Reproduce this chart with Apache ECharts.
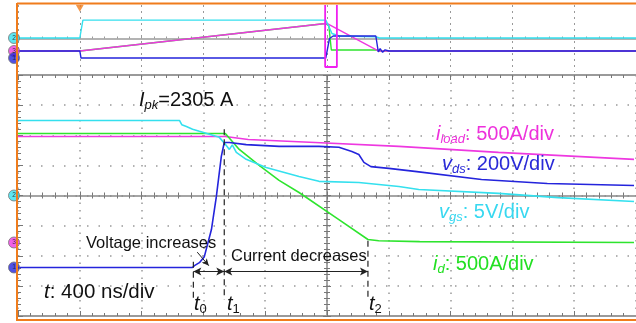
<!DOCTYPE html>
<html><head><meta charset="utf-8">
<script src="https://cdn.jsdelivr.net/npm/echarts@6/dist/echarts.min.js"></script>
<style>html,body{margin:0;padding:0;background:#fff}#c{width:636px;height:323px}</style>
</head><body><div id="c"></div>
<script>
// ---- Overview panel (x in divisions 0..10, y in divisions) ----
const vgsTop = [[0,0.06],[1.0,0.06],[1.05,2.2],[4.98,2.2],[5.02,1.6],[5.08,0.6],[5.2,0.3],[5.8,0.2],[5.85,0.06],[10,0.06]];
const iloadTop = [[0,-1.49],[1.0,-1.49],[1.02,-1.37],[4.98,1.79],[5.02,1.73],[5.83,-1.49],[10,-1.49]];
const idTop = [[0,-1.49],[1.0,-1.49],[1.02,-1.37],[4.98,1.79],[5.03,1.5],[5.07,-1.37],[5.8,-1.37],[5.85,-1.49],[10,-1.49]];
const vdsTop = [[0,-1.49],[1.0,-1.49],[1.02,-2.33],[4.98,-2.33],[5.04,0.0],[5.1,0.3],[5.79,0.3],[5.83,-1.6],[5.86,-1.2],[5.9,-1.65],[5.94,-1.35],[6.0,-1.49],[10,-1.49]];
const zoomWindow = [[4.97,4],[4.97,-3.4],[5.16,-3.4],[5.16,4]];
const topGrounds = [[0,0.06],[0,-1.49],[0,-2.33]];
const triggerPos = [[1.0,3.6]];

// ---- Main panel (x in ns 0..4000, y in divisions) ----
const vgsMain = [[0,2.49],[1045,2.49],[1060,2.35],[1090,2.29],[1130,2.2],[1174,2.13],[1303,1.93],[1342,1.7],[1368,1.53],[1387,1.68],[1413,1.43],[1477,1.2],[1606,0.93],[1819,0.63],[1948,0.47],[2206,0.43],[2465,0.30],[2594,0.2],[3110,0.07],[3497,-0.07],[3987,-0.2]];
const idMain = [[0,2.06],[1342,2.06],[1432,1.53],[1561,1.0],[1690,0.5],[1819,0.1],[2077,-0.8],[2265,-1.46],[2335,-1.5],[2600,-1.53],[3987,-1.56]];
const iloadMain = [[0,1.96],[1342,1.96],[1490,1.86],[1923,1.76],[2465,1.63],[3110,1.43],[3987,1.20]];
const vdsMain = [[0,-2.39],[1129,-2.39],[1142,-2.33],[1174,-2.23],[1206,-2.03],[1252,-1.13],[1284,-0.03],[1316,1.3],[1335,1.76],[1368,1.76],[1477,1.69],[1690,1.63],[1948,1.63],[2077,1.6],[2161,1.46],[2206,1.36],[2239,1.1],[2284,0.96],[2400,0.9],[2568,0.8],[3000,0.53],[3426,0.4],[3987,0.33]];
const mainGrounds = [[0,0],[0,-1.56],[0,-2.39]];
const groundLabels = ['2','3','1'];
const tMarks = [1135, 1335, 2265];       // t0, t1, t2 (ns)
const tDashTop = [-2.2, 2.2, -1.5];      // top of dashed markers (div)
const dashBottom = -3.45;
const arrowY = -2.52;
const leader = [[1160,-1.88],[1235,-2.33]];  // "Voltage increases" pointer

const C = {cyan:'#34e0ee', mag:'#ee38e0', blue:'#2424dc', green:'#2ee42e', orange:'#f07c1c', grid:'#9a9a9a'};
const FF = '"Liberation Sans", Arial, sans-serif';

const chart = echarts.init(document.getElementById('c'), null, {renderer:'canvas'});

function trace(data, color, xi, yi, w) {
  return {type:'line', data, xAxisIndex:xi, yAxisIndex:yi, showSymbol:false, symbol:'none',
    lineStyle:{color, width:w||1.6}, itemStyle:{color}, animation:false, silent:true, z:3};
}
function groundSeries(data, xi, yi, size) {
  const cols = [C.cyan, C.mag, C.blue];
  return {type:'scatter', xAxisIndex:xi, yAxisIndex:yi, clip:false, animation:false, silent:true, z:6,
    data: data.map((d,i)=>({value:d, itemStyle:{color:cols[i], borderColor:'#777', borderWidth:1},
      label:{show:true, formatter:groundLabels[i], position:'inside', fontSize:size*0.6, color:'#222', fontFamily:FF}})),
    symbol:'circle', symbolSize:size, symbolOffset:[-4,0]};
}
const dashedSeries = tMarks.map((t,i)=>({type:'line', xAxisIndex:1, yAxisIndex:1, data:[[t,tDashTop[i]],[t,dashBottom]],
  showSymbol:false, symbol:'none', lineStyle:{color:'#222', width:1.2, type:[6,4]}, animation:false, silent:true, z:4}));

const rich = (col, size) => ({
  i:{fontFamily:FF, fontSize:size, fontStyle:'italic', fill:col, fontWeight:'normal'},
  n:{fontFamily:FF, fontSize:size, fill:col},
  s:{fontFamily:FF, fontSize:Math.round(size*0.66), fontStyle:'italic', fill:col, padding:[Math.round(size*0.5),0,0,0]},
  d:{fontFamily:FF, fontSize:Math.round(size*0.66), fill:col, padding:[Math.round(size*0.5),0,0,0]}
});
function txt(x, y, text, col, size) {
  return {type:'text', x, y, z:10, silent:true,
    style:{text, rich:rich(col,size), fill:col, fontFamily:FF, fontSize:size, verticalAlign:'middle', align:'left'}};
}

const option = {
  backgroundColor:'#fff',
  animation:false,
  grid:[
    {left:18, top:5, width:620, height:67},
    {left:18, top:75, width:620, height:241}
  ],
  xAxis:[
    {gridIndex:0, type:'value', min:0, max:10, interval:1, axisLabel:{show:false},
     axisLine:{show:true, onZero:true, onZeroAxisIndex:0, lineStyle:{color:C.grid, width:1.5}},
     axisTick:{show:true, inside:true, length:3, lineStyle:{color:C.grid}},
     minorTick:{show:true, splitNumber:5, length:2, lineStyle:{color:C.grid}},
     splitLine:{show:true, lineStyle:{color:'#999', type:[2,4], width:1}}},
    {gridIndex:1, type:'value', min:0, max:4000, interval:400, position:'bottom', axisLabel:{show:false},
     axisLine:{show:true, onZero:false, lineStyle:{color:C.grid, width:2}},
     axisTick:{show:true, inside:true, length:5, lineStyle:{color:'#777'}},
     minorTick:{show:true, splitNumber:5, length:3, lineStyle:{color:'#777'}},
     splitLine:{show:true, lineStyle:{color:'#999', type:[1.5,6], width:1.5}}},
    {gridIndex:1, type:'value', min:0, max:4000, interval:400, position:'top', axisLabel:{show:false},
     axisLine:{show:true, onZero:false, lineStyle:{color:C.grid, width:2}},
     axisTick:{show:true, inside:true, length:5, lineStyle:{color:'#777'}},
     minorTick:{show:true, splitNumber:5, length:3, lineStyle:{color:'#777'}},
     splitLine:{show:false}},
    {gridIndex:1, type:'value', min:-2000, max:2000, interval:400, position:'bottom', axisLabel:{show:false},
     axisLine:{show:true, onZero:true, onZeroAxisIndex:1, lineStyle:{color:'#888', width:1.5}},
     axisTick:{show:true, inside:true, length:4, lineStyle:{color:'#777'}},
     minorTick:{show:true, splitNumber:5, length:3, lineStyle:{color:'#777'}},
     splitLine:{show:false}},
    {gridIndex:1, type:'value', min:-2000, max:2000, interval:400, position:'bottom', axisLabel:{show:false},
     axisLine:{show:false, onZero:true, onZeroAxisIndex:1},
     axisTick:{show:true, inside:false, length:4, lineStyle:{color:'#777'}},
     minorTick:{show:true, splitNumber:5, length:3, lineStyle:{color:'#777'}},
     splitLine:{show:false}}
  ],
  yAxis:[
    {gridIndex:0, type:'value', min:-4, max:4, interval:1, axisLabel:{show:false},
     axisLine:{show:false}, axisTick:{show:false}, splitLine:{show:false}},
    {gridIndex:1, type:'value', min:-4, max:4, interval:1, position:'left', axisLabel:{show:false},
     axisLine:{show:false, onZero:false},
     axisTick:{show:true, inside:true, length:5, lineStyle:{color:'#777'}},
     minorTick:{show:true, splitNumber:5, length:3, lineStyle:{color:'#777'}},
     splitLine:{show:true, lineStyle:{color:'#999', type:[1.5,10], width:1.5}}},
    {gridIndex:1, type:'value', min:-4, max:4, interval:1, position:'left', axisLabel:{show:false},
     axisLine:{show:true, onZero:true, onZeroAxisIndex:3, lineStyle:{color:'#888', width:1.5}},
     axisTick:{show:true, inside:true, length:4, lineStyle:{color:'#777'}},
     minorTick:{show:true, splitNumber:5, length:3, lineStyle:{color:'#777'}},
     splitLine:{show:false}},
    {gridIndex:1, type:'value', min:-4, max:4, interval:1, position:'left', axisLabel:{show:false},
     axisLine:{show:false, onZero:true, onZeroAxisIndex:3},
     axisTick:{show:true, inside:false, length:4, lineStyle:{color:'#777'}},
     minorTick:{show:true, splitNumber:5, length:3, lineStyle:{color:'#777'}},
     splitLine:{show:false}}
  ],
  series:[
    trace(idTop, C.green, 0, 0, 1.4),
    trace(iloadTop, C.mag, 0, 0, 1.4),
    trace(vgsTop, C.cyan, 0, 0, 1.4),
    trace(vdsTop, C.blue, 0, 0, 1.4),
    {type:'line', data:zoomWindow, xAxisIndex:0, yAxisIndex:0, showSymbol:false, symbol:'none',
     lineStyle:{color:'#f020f0', width:1.8}, animation:false, silent:true, z:5},
    {type:'scatter', data:triggerPos, xAxisIndex:0, yAxisIndex:0, symbol:'triangle', symbolRotate:180, symbolSize:[8,7],
     itemStyle:{color:C.orange}, clip:false, animation:false, silent:true, z:6},
    groundSeries(topGrounds, 0, 0, 11),
    trace(iloadMain, C.mag, 1, 1),
    trace(idMain, C.green, 1, 1),
    trace(vgsMain, C.cyan, 1, 1),
    trace(vdsMain, C.blue, 1, 1),
    groundSeries(mainGrounds, 1, 1, 11),
    ...dashedSeries,
    {type:'line', xAxisIndex:1, yAxisIndex:1, data:[], animation:false, silent:true,
     markLine:{silent:true, symbol:['arrow','arrow'], symbolSize:[6,8], label:{show:false},
       lineStyle:{color:'#222', width:1, type:'solid'}, animation:false,
       data:[
         [{coord:[tMarks[0], arrowY]},{coord:[tMarks[1], arrowY]}],
         [{coord:[tMarks[1], arrowY]},{coord:[tMarks[2], arrowY]}]
       ]}},
    {type:'line', xAxisIndex:1, yAxisIndex:1, data:[], animation:false, silent:true,
     markLine:{silent:true, symbol:['none','arrow'], symbolSize:[5,7], label:{show:false},
       lineStyle:{color:'#222', width:1, type:'solid'}, animation:false,
       data:[[{coord:leader[0]},{coord:leader[1]}]]}}
  ],
  graphic:[
    {type:'line', shape:{x1:17,y1:3.5,x2:636,y2:3.5}, style:{stroke:C.orange, lineWidth:2}, z:20, silent:true},
    {type:'line', shape:{x1:17,y1:3,x2:17,y2:321}, style:{stroke:C.orange, lineWidth:2}, z:20, silent:true},
    {type:'line', shape:{x1:17,y1:320,x2:636,y2:320}, style:{stroke:C.orange, lineWidth:2}, z:20, silent:true},
    txt(139, 100, '{i|I}{s|pk}{n|=2305 A}', '#111', 20),
    txt(436, 134, '{i|i}{s|load}{n|: 500A/div}', '#ee30dc', 20),
    txt(442, 164, '{i|v}{s|ds}{n|: 200V/div}', '#2a2ad8', 20),
    txt(439, 212, '{i|v}{s|gs}{n|: 5V/div}', '#38d8f0', 20),
    txt(433, 264, '{i|i}{s|d}{n|: 500A/div}', '#22e022', 20),
    txt(86, 243, '{n|Voltage increases}', '#111', 16.5),
    txt(231, 256, '{n|Current decreases}', '#111', 16.5),
    txt(44, 292, '{i|t}{n|: 400 ns/div}', '#111', 20.5),
    txt(194, 304, '{i|t}{d|0}', '#111', 20),
    txt(227, 304, '{i|t}{d|1}', '#111', 20),
    txt(369, 304, '{i|t}{d|2}', '#111', 20)
  ]
};
chart.setOption(option);
</script></body></html>
